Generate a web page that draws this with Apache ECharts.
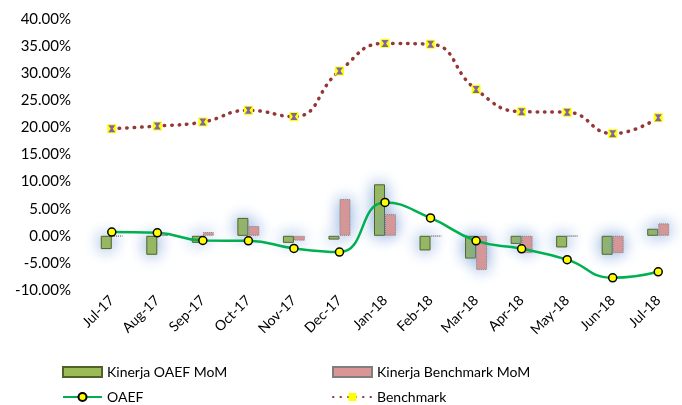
<!DOCTYPE html>
<html><head><meta charset="utf-8">
<script src="https://cdn.jsdelivr.net/npm/echarts@6/dist/echarts.min.js"></script>
<style>html,body{margin:0;padding:0;background:#fff}#c{width:682px;height:405px}</style>
</head><body><div id="c"></div>
<script>
var categories = ['Jul-17','Aug-17','Sep-17','Oct-17','Nov-17','Dec-17','Jan-18','Feb-18','Mar-18','Apr-18','May-18','Jun-18','Jul-18'];
var oaefMoM = [-2.45, -3.5, -1.3, 3.3, -1.3, -0.7, 9.5, -2.7, -4.2, -1.5, -2.15, -3.5, 1.3];
var benchMoM = [-0.1, 0.1, 0.7, 1.8, -0.9, 6.8, 4.0, -0.1, -6.3, -3.2, -0.1, -3.2, 2.3];
var oaef = [0.68, 0.55, -0.87, -0.92, -2.33, -3.0, 6.15, 3.3, -0.92, -2.4, -4.4, -7.75, -6.64];
var benchmark = [19.76, 20.25, 21.0, 23.15, 22.0, 30.4, 35.5, 35.35, 27.0, 22.9, 22.8, 18.85, 21.8];
var yTicks = {min: -10, max: 40, interval: 5};

var FONT = 'Lato';
var glow = {shadowBlur: 16, shadowColor: 'rgba(110,150,210,1)'};
var chart = echarts.init(document.getElementById('c'));
var legendText = {fontSize: 14, color: '#000', fontFamily: FONT};
chart.setOption({
  animation: false,
  textStyle: {fontFamily: FONT},
  grid: {left: 89, right: 1, top: 19, bottom: 115, containLabel: false, outerBoundsMode: 'none'},
  xAxis: {
    type: 'category', data: categories, boundaryGap: true,
    axisLine: {show: false}, axisTick: {show: false}, splitLine: {show: false},
    axisLabel: {rotate: 45, margin: 8, color: '#000', fontSize: 14, fontFamily: FONT, interval: 0}
  },
  yAxis: {
    type: 'value', min: yTicks.min, max: yTicks.max, interval: yTicks.interval,
    axisLine: {show: false}, axisTick: {show: false}, splitLine: {show: false},
    axisLabel: {margin: 18, color: '#000', fontSize: 15, fontFamily: FONT,
      formatter: function(v){ return v.toFixed(2) + '%'; }}
  },
  legend: [
    {orient: 'vertical', left: 62, top: 365, height: 60, padding: 0, itemWidth: 39, itemHeight: 10, itemGap: 11,
     textStyle: legendText,
     data: [{name: 'Kinerja OAEF MoM', icon: 'rect'}, {name: 'OAEF'}]},
    {orient: 'vertical', left: 332, top: 365, height: 60, padding: 0, itemWidth: 39, itemHeight: 10, itemGap: 11,
     textStyle: legendText,
     data: [{name: 'Kinerja Benchmark MoM', icon: 'rect'}, {name: 'Benchmark'}]}
  ],
  series: [
    {name: 'Kinerja OAEF MoM', type: 'bar', data: oaefMoM, barWidth: 11, barGap: '0%',
     itemStyle: Object.assign({color: '#9BBB59', borderColor: '#4F6228', borderWidth: 1}, glow)},
    {name: 'Kinerja Benchmark MoM', type: 'bar', data: benchMoM, barWidth: 11, barGap: '0%',
     itemStyle: Object.assign({color: '#D99694', borderColor: '#7F7F7F', borderWidth: 1, borderType: 'dotted'}, glow)},
    {name: 'OAEF', type: 'line', data: oaef, smooth: 0.5, z: 5,
     lineStyle: {color: '#00B050', width: 2.5},
     symbol: 'circle', symbolSize: 8,
     itemStyle: {color: '#FFFF00', borderColor: '#000', borderWidth: 1.5}},
    {name: 'Benchmark', type: 'line', data: benchmark, smooth: 0.5, z: 5,
     lineStyle: {color: '#953735', width: 3.5, type: [0.5, 7], cap: 'round'},
     symbol: 'rect', symbolSize: 9,
     itemStyle: {color: '#FFFF00', borderColor: '#FFFF00', borderWidth: 0}},
    {name: 'BenchmarkMarker', type: 'line', data: benchmark, z: 6, silent: true,
     lineStyle: {opacity: 0},
     symbol: 'path://M0,0 L10,0 L6.5,5 L10,10 L0,10 L3.5,5 Z', symbolSize: [7, 7],
     itemStyle: {color: '#7F64A8'}}
  ]
});
</script></body></html>
